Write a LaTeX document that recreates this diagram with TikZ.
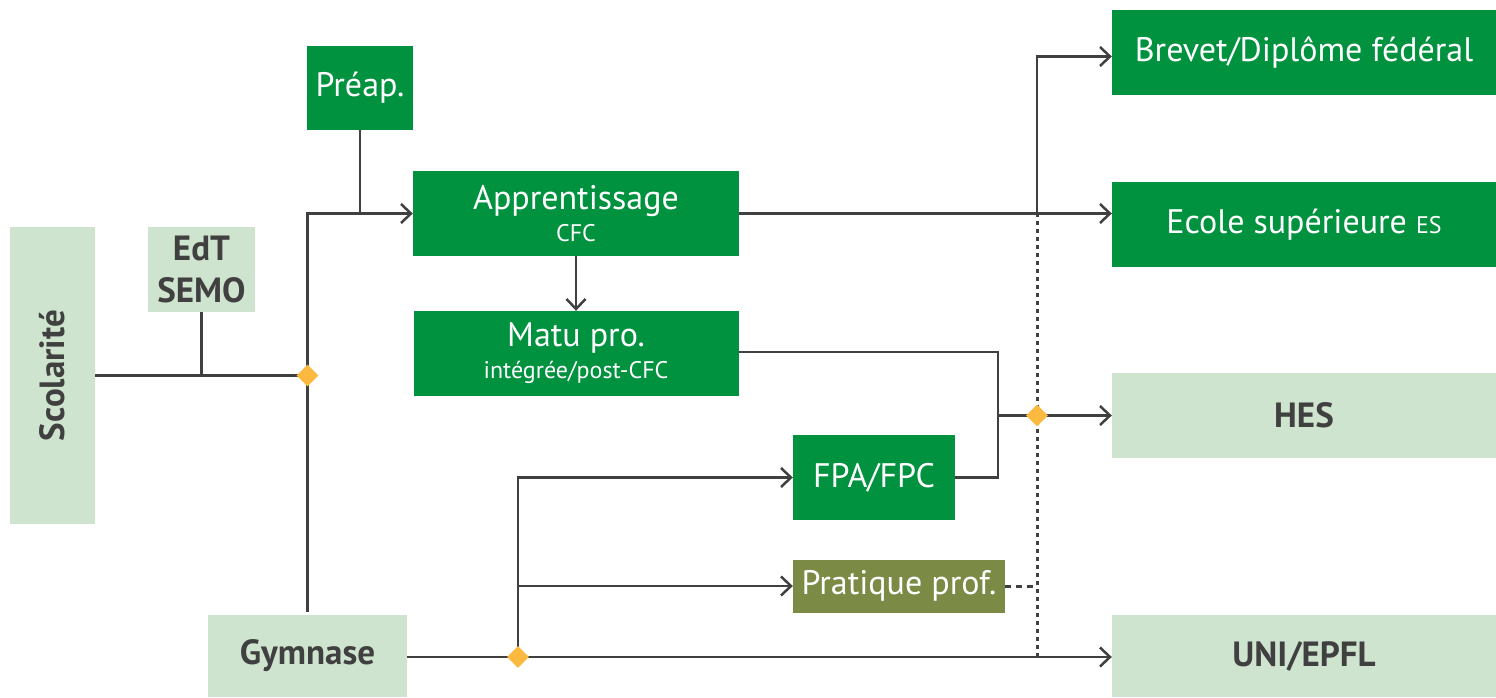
\documentclass[tikz,border=0pt]{standalone}
\usepackage{fontspec}
\setmainfont{PT Sans}
\usepackage{tikz}
\usetikzlibrary{positioning, arrows.meta, shapes.geometric}
\definecolor{vertfonce}{HTML}{00923F}
\definecolor{vertclair}{HTML}{CFE4CF}
\definecolor{olive}{HTML}{7B8B45}
\definecolor{trait}{HTML}{404040}
\definecolor{jaune}{HTML}{FBBA3F}
\tikzset{
    >={Straight Barb[length=10pt,width=19pt]}, % open arrow heads
    every node/.style={inner sep=0pt},
    voie/.style={rectangle, fill=vertfonce, text=white, align=center, font=\fontsize{34}{36}\selectfont}, % dark green boxes
    base/.style={rectangle, fill=vertclair, text=trait, align=center, font=\bfseries\fontsize{35}{42}\selectfont}, % light green boxes
    pratique/.style={rectangle, fill=olive, text=white, font=\fontsize{34}{36}\selectfont},
    jonction/.style={diamond, fill=jaune, minimum size=22pt},
    lien/.style={draw=trait, line width=2.5pt},
    pointille/.style={draw=trait, line width=3pt, dash pattern=on 4pt off 4pt},
}
\newcommand{\petit}{\fontsize{24}{26}\selectfont}

\begin{document}
\begin{tikzpicture}[x=1pt, y=-1pt]
        \useasboundingbox (0,0) rectangle (1496,698);
        % Nodes
        \node[base, rotate=90, minimum width=297pt, minimum height=85pt] (scol) at (52.5,375.5) {Scolarité};
        \node[base, minimum width=107pt, minimum height=85pt] (edt) at (201.5,269.5) {EdT\\SEMO};
        \node[base, minimum width=199pt, minimum height=82pt] (gym) at (307.5,656) {Gymnase};
        \node[voie, minimum width=106pt, minimum height=84pt] (preap) at (360,88) {Préap.};
        \node[voie, minimum width=326pt, minimum height=85pt] (appr) at (576,213.5) {Apprentissage\\[-4pt]{\petit CFC}};
        \node[voie, minimum width=325pt, minimum height=85pt, below of=appr, node distance=140pt] (matu) {Matu pro.\\[-4pt]{\petit intégrée/post-CFC}};
        \node[voie, minimum width=162pt, minimum height=85pt] (fpa) at (874,477.5) {FPA/FPC};
        \node[pratique, minimum width=212pt, minimum height=53pt] (prat) at (899,586) {Pratique prof.};
        \node[voie, minimum width=384pt, minimum height=85pt] (brevet) at (1304,52.5) {Brevet/Diplôme fédéral};
        \node[voie, minimum width=384pt, minimum height=85pt, below of=brevet, node distance=172pt] (ecole) {Ecole supérieure {\petit ES}};
        \node[base, minimum width=384pt, minimum height=85pt] (hes) at (1304,415.5) {HES};
        \node[base, minimum width=384pt, minimum height=82pt] (uni) at (1304,656) {UNI/EPFL};

        % Junctions
        \coordinate (j1) at (gym.north |- scol.south);
        \coordinate (j2) at (518,657);
        \coordinate (j3) at (1037,213);
        \coordinate (j4) at (j3 |- hes.west);
        \coordinate (m) at (998,415.5);

        % Draw lines
        \draw[lien] (scol.south) -- (j1);
        \draw[lien] (edt.south) -- (edt.south |- scol.south);
        \draw[lien, ->] ([yshift=3pt]gym.north) |- (appr.west);
        \draw[lien] (preap.south) -- (preap.south |- appr.west);
        \draw[lien, ->] (appr.south) -- (matu.north);
        \draw[lien, ->] (appr.east) -- (appr.east -| ecole.west);
        \draw[lien, ->] (j3) |- ([yshift=-4pt]brevet.west);
        \draw[pointille] (j3) -- (j3 |- j2);
        \draw[lien] ([yshift=1.5pt]matu.east) -| (m) |- (fpa.east);
        \draw[lien, ->] (m) -- (hes.west);
        \draw[lien, ->] (gym.east |- j2) -- (j2 -| uni.west);
        \draw[lien, ->] (j2) |- (fpa.west);
        \draw[lien, ->] (j2 |- prat.west) -- (prat.west);
        \draw[pointille, dash pattern=on 6pt off 5pt] (prat.east) -- (prat.east -| j3);

        \node[jonction] at (j1) {};
        \node[jonction] at (j2) {};
        \node[jonction] at (j4) {};
    \end{tikzpicture}
\end{document}
